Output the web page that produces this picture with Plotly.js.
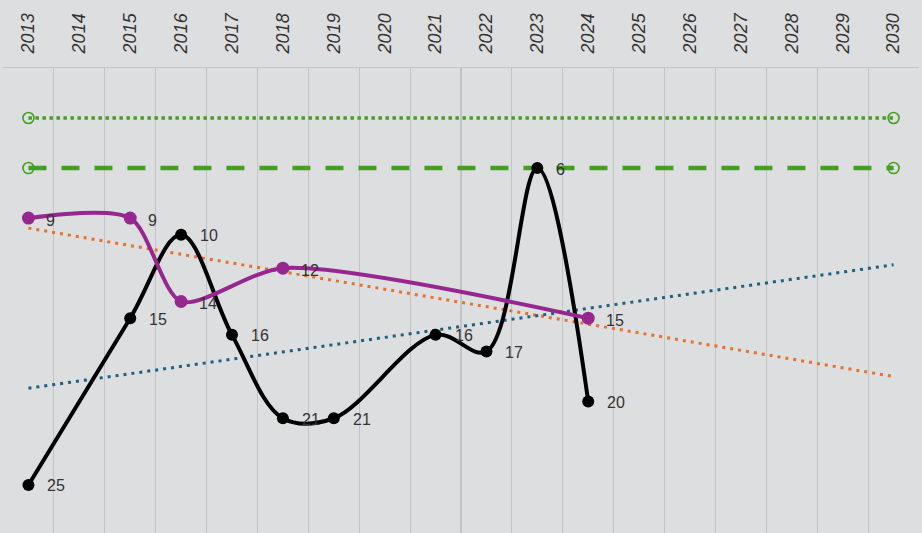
<!DOCTYPE html>
<html>
<head>
<meta charset="utf-8">
<script src="https://cdn.plot.ly/plotly-3.0.1.min.js"></script>
<style>html,body{margin:0;padding:0;background:#dddee0;}#chart{width:922px;height:533px;}</style>
</head>
<body>
<div id="chart"></div>
<script>
// Tick labels / years shown on the axis
const years = [2013,2014,2015,2016,2017,2018,2019,2020,2021,2022,2023,2024,2025,2026,2027,2028,2029,2030];
const yearLabels = years.map(String);

// Black series (rank)
const blackYears = [2013,2015,2016,2017,2018,2019,2021,2022,2023,2024];
const blackValues = [25,15,10,16,21,21,16,17,6,20];

// Purple series (rank)
const purpleYears = [2013,2015,2016,2018,2024];
const purpleValues = [9,9,14,12,15];

// Reference lines
const refYears = [2013,2030];
const dottedGreen = [3,3];
const dashedGreen = [6,6];

// Trend lines
const trendYears = [2013,2030];
const trendPurple = [9.6,18.5];
const trendBlack = [19.2,11.8];

const halfYears = years.map(y => y - 0.5).concat([years[years.length-1] + 0.5]);

const traces = [
  {x: refYears, y: dottedGreen, mode:'lines+markers', line:{color:'#45a021', width:3.5, dash:'dot'},
   marker:{symbol:'circle-open', size:11, color:'#45a021', line:{width:1.6}}, hoverinfo:'skip'},
  {x: refYears, y: dashedGreen, mode:'lines+markers', line:{color:'#45a021', width:4.5, dash:'18px,15px'},
   marker:{symbol:'circle-open', size:11, color:'#45a021', line:{width:1.6}}, hoverinfo:'skip'},
  {x: trendYears, y: trendPurple, mode:'lines', line:{color:'#e8702a', width:3, dash:'3px,5px'}, hoverinfo:'skip'},
  {x: trendYears, y: trendBlack, mode:'lines', line:{color:'#1f5f7f', width:3, dash:'3px,5px'}, hoverinfo:'skip'},
  {x: blackYears, y: blackValues, mode:'lines+markers', line:{color:'#000000', width:4, shape:'spline', smoothing:1},
   marker:{size:12, color:'#000000'}},
  {x: purpleYears, y: purpleValues, mode:'lines+markers', line:{color:'#95278f', width:4, shape:'spline', smoothing:0.75},
   marker:{size:13, color:'#95278f'}}
];

const labelFont = {family:'Liberation Sans, Arial, sans-serif', size:16, color:'#333333'};
const annotations = [];
blackYears.forEach((yr,i) => annotations.push({x: yr, y: blackValues[i], text: String(blackValues[i]), showarrow:false,
  xanchor:'left', yanchor:'middle', xshift:17, yshift:-1, font:labelFont}));
purpleYears.forEach((yr,i) => annotations.push({x: yr, y: purpleValues[i], text: String(purpleValues[i]), showarrow:false,
  xanchor:'left', yanchor:'middle', xshift:16, yshift:-2, font:labelFont}));

const layout = {
  width:922, height:533,
  margin:{l:3, r:3, t:68, b:0, pad:0},
  paper_bgcolor:'#dddee0', plot_bgcolor:'#dddee0',
  showlegend:false,
  xaxis:{
    side:'top', range:[2012.5, 2030.5], tickmode:'array', tickvals: years, ticktext: yearLabels,
    tickangle:-90, showgrid:false, zeroline:false, showline:true, linecolor:'#c4c4c4', linewidth:1,
    ticks:'', ticklabelstandoff:10,
    tickfont:{family:'Liberation Sans, Arial, sans-serif', size:18, color:'#333333', style:'italic'},
    minor:{tickmode:'array', tickvals: halfYears, showgrid:true, gridcolor:'#c2c3c5', gridwidth:1.2, ticks:''},
    fixedrange:true
  },
  yaxis:{
    range:[27.88, 0], showgrid:false, zeroline:false, showticklabels:false, showline:false, fixedrange:true
  },
  annotations: annotations
};

Plotly.newPlot('chart', traces, layout, {displayModeBar:false, staticPlot:true});
</script>
</body>
</html>
